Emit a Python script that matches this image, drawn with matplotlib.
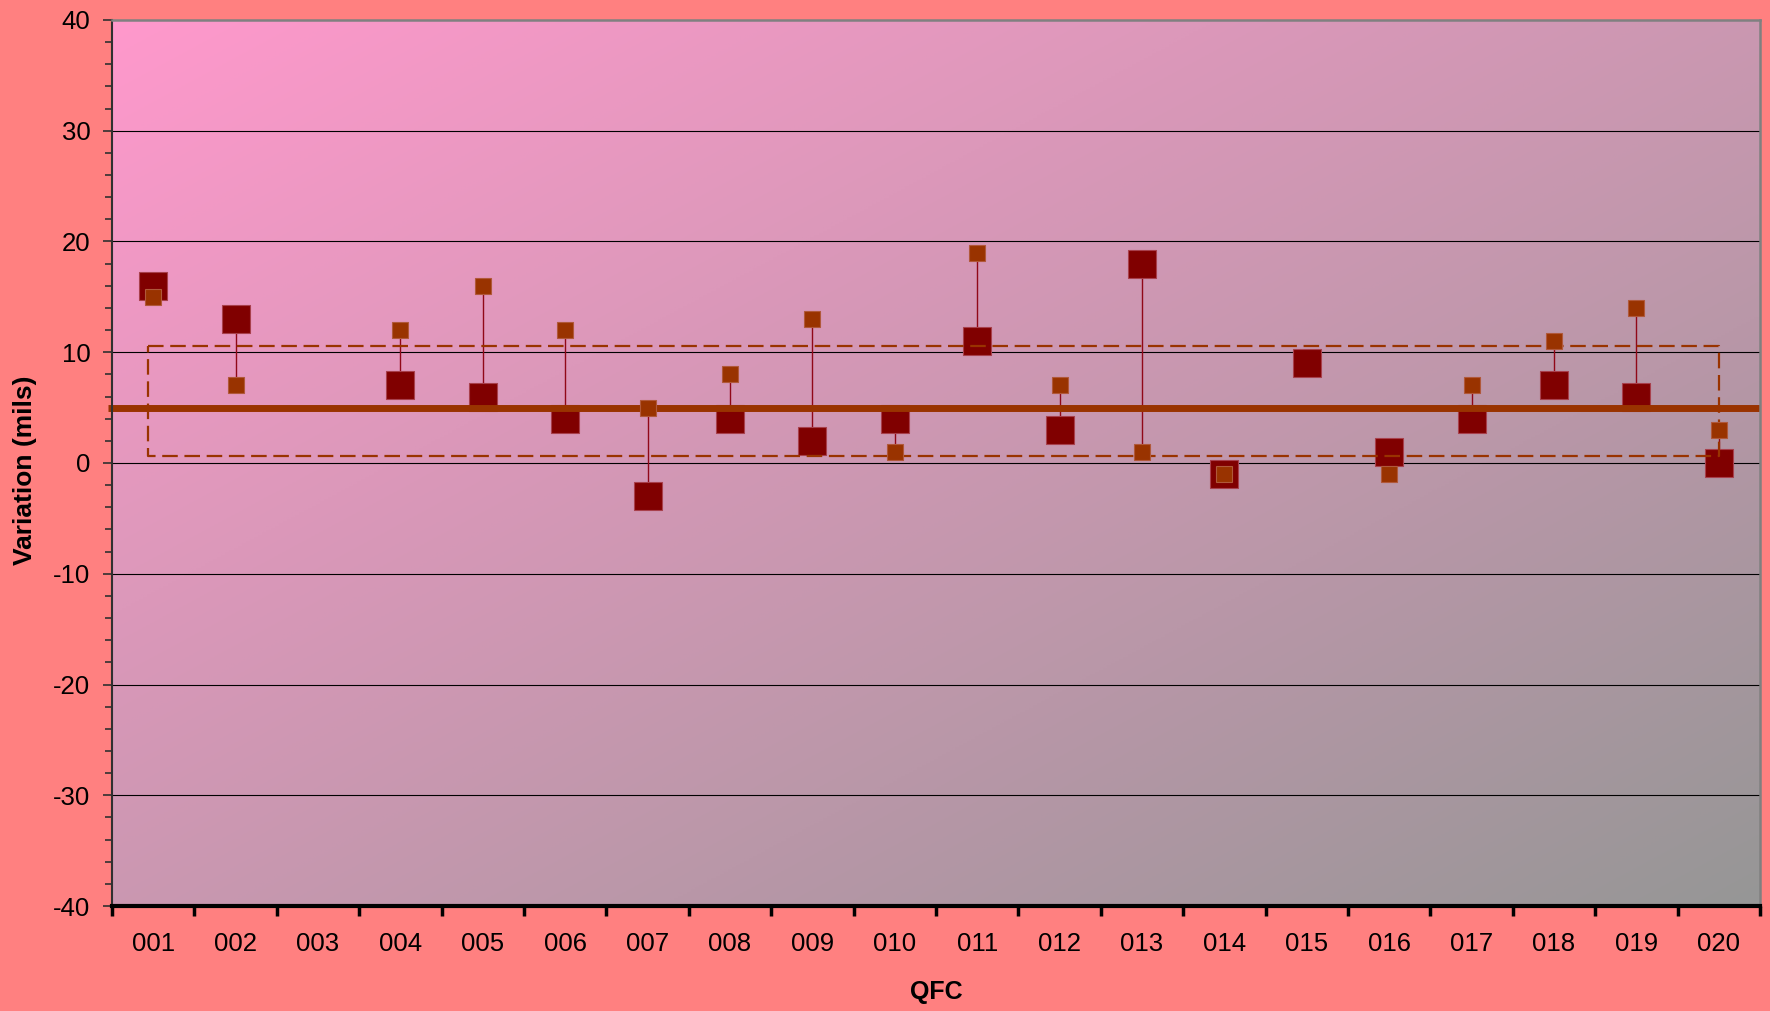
import numpy as np
import matplotlib
matplotlib.use("Agg")
import matplotlib.pyplot as plt
from matplotlib.colors import LinearSegmentedColormap

plt.rcParams['font.family'] = ['Liberation Sans', 'DejaVu Sans']
plt.rcParams['axes.unicode_minus'] = False

# ---- data ----
categories = ["001", "002", "003", "004", "005", "006", "007", "008", "009", "010",
              "011", "012", "013", "014", "015", "016", "017", "018", "019", "020"]
measured = [16, 13, np.nan, 7, 6, 4, -3, 4, 2, 4,
            11, 3, 18, -1, 9, 1, 4, 7, 6, 0]
reference = [15, 7, np.nan, 12, 16, 12, 5, 8, 13, 1,
             19, 7, 1, -1, np.nan, -1, 7, 11, 14, 3]
center_line = 5.0
upper_limit = 10.55
lower_limit = 0.6
y_ticks = [-40, -30, -20, -10, 0, 10, 20, 30, 40]

# ---- figure ----
W, H, DPI = 1770, 1011, 100
fig = plt.figure(figsize=(W / DPI, H / DPI), dpi=DPI, facecolor='#FF8080')
L, R, T, B = 112, 1760, 20, 906
ax = fig.add_axes([L / W, 1 - B / H, (R - L) / W, (B - T) / H])

n = len(categories)
x = np.arange(1, n + 1)
ax.set_xlim(0.5, n + 0.5)
ax.set_ylim(-40, 40)

# gradient background (top-left pink -> bottom-right gray)
gx, gy = np.meshgrid(np.linspace(0, 1, 400), np.linspace(1, 0, 400))
t = (gx + (1 - gy)) / 2
cmap = LinearSegmentedColormap.from_list('bg', ['#FF99CC', '#969696'])
ax.imshow(t, cmap=cmap, extent=[0, 1, 0, 1], transform=ax.transAxes,
          aspect='auto', zorder=0, interpolation='bilinear')

# gridlines
for yv in y_ticks[1:-1]:
    ax.axhline(yv, color='black', lw=0.8, zorder=1)

m = np.array(measured, dtype=float)
r = np.array(reference, dtype=float)

# connectors
for xi, a, b in zip(x, m, r):
    if not (np.isnan(a) or np.isnan(b)):
        ax.plot([xi, xi], [a, b], color='#900818', lw=1.0, zorder=2)

# big squares
ax.plot(x, m, ls='none', marker='s', markersize=20.5, color='#800000',
        markeredgecolor='#a8404c', markeredgewidth=0.8, zorder=3)

# centre line
ax.plot([0.45, n + 0.5], [center_line, center_line], color='#993300', lw=5,
        solid_capstyle='butt', zorder=4, clip_on=False)

# dashed limit box
x0, x1 = x[0] - 0.06, x[-1]
ax.plot([x0, x1, x1, x0, x0],
        [upper_limit, upper_limit, lower_limit, lower_limit, upper_limit],
        color='#993300', lw=1.6, ls=(0, (7, 3)), zorder=4)

# small squares
ax.plot(x, r, ls='none', marker='s', markersize=11, color='#993300',
        markeredgecolor='#b0583a', markeredgewidth=0.8, zorder=5)

# axes styling
ax.set_yticks(y_ticks)
ax.set_yticks(np.arange(-40, 41, 2), minor=True)
ax.tick_params(axis='y', which='major', length=6.5, width=1.2, color='#303030',
               labelsize=18.5, pad=9)
ax.tick_params(axis='y', which='minor', length=5, width=1.2, color='#303030')

ax.set_xticks(np.arange(0.5, n + 1, 1))
ax.set_xticklabels([])
ax.set_xticks(x, minor=True)
ax.set_xticklabels(categories, minor=True)
ax.tick_params(axis='x', which='major', length=7, width=2.5, color='black',
               direction='out')
ax.tick_params(axis='x', which='minor', length=0, labelsize=18.5, pad=19)

for s in ['top', 'right']:
    ax.spines[s].set_color('#808080')
    ax.spines[s].set_linewidth(1.8)
ax.spines['left'].set_color('#303030')
ax.spines['left'].set_linewidth(1.5)
ax.spines['bottom'].set_color('black')
ax.spines['bottom'].set_linewidth(3)
for s in ax.spines.values():
    s.set_zorder(6)

ax.set_ylabel('Variation (mils)', fontsize=19, fontweight='bold', va='center')
ax.yaxis.set_label_coords((25 - L) / (R - L), (B - 470) / (B - T))
ax.set_xlabel('QFC', fontsize=18, fontweight='bold', va='center')
ax.xaxis.set_label_coords(0.5, -(992 - B) / (B - T))

fig.savefig('out.png', dpi=DPI, facecolor=fig.get_facecolor())
